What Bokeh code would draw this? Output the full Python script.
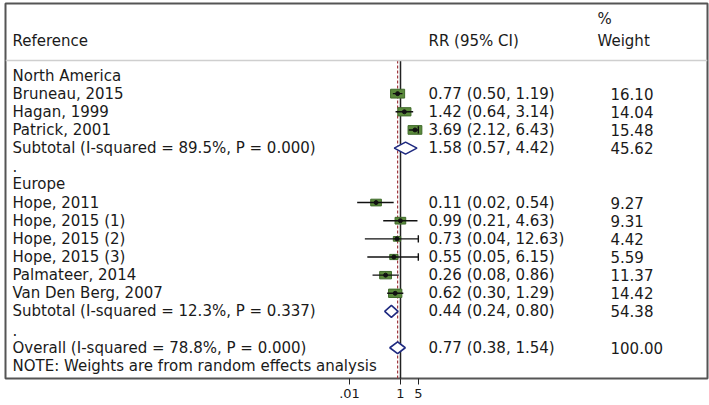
import numpy as np
from bokeh.plotting import figure
from bokeh.models import Range1d, FixedTicker, CustomJSTickFormatter, ColumnDataSource, Span
from bokeh.core.properties import value
from bokeh.embed import file_html
from bokeh.resources import INLINE

# ---------------- data ----------------
groups = ["North America", "Europe"]
group_rows = [0, 6]

studies = ["Bruneau, 2015", "Hagan, 1999", "Patrick, 2001",
           "Hope, 2011", "Hope, 2015 (1)", "Hope, 2015 (2)", "Hope, 2015 (3)",
           "Palmateer, 2014", "Van Den Berg, 2007"]
study_rows = [1, 2, 3, 7, 8, 9, 10, 11, 12]
rr = [0.77, 1.42, 3.69, 0.11, 0.99, 0.73, 0.55, 0.26, 0.62]
rr_lo = [0.50, 0.64, 2.12, 0.02, 0.21, 0.04, 0.05, 0.08, 0.30]
rr_hi = [1.19, 3.14, 6.43, 0.54, 4.63, 12.63, 6.15, 0.86, 1.29]
weights = [16.10, 14.04, 15.48, 9.27, 9.31, 4.42, 5.59, 11.37, 14.42]

pooled_labels = ["Subtotal  (I-squared = 89.5%, P = 0.000)",
                 "Subtotal  (I-squared = 12.3%, P = 0.337)",
                 "Overall  (I-squared = 78.8%, P = 0.000)"]
pooled_rows = [4, 13, 15]
pooled_rr = [1.58, 0.44, 0.77]
pooled_lo = [0.57, 0.24, 0.38]
pooled_hi = [4.42, 0.80, 1.54]
pooled_w = [45.62, 54.38, 100.00]

dot_rows = [5, 14]
note_text = "NOTE: Weights are from random effects analysis"
note_row = 16

x_ticks = [0.01, 1, 5]
x_tick_labels = [".01", "1", "5"]

# ---------------- layout helpers ----------------
PPD = 25.5          # pixels per decade
ONE_PX = 400        # page x of RR = 1
def px2x(px):
    return 10 ** ((px - ONE_PX) / PPD)

ROW0_PX, ROW_STEP = 75, 18.15
def py2row(py):
    return (py - ROW0_PX) / ROW_STEP

FRAME_L, FRAME_R, FRAME_T, FRAME_B = 5, 707, 3, 378

X_REF = px2x(12)
X_RR = px2x(428)
X_W = px2x(610)
X_WH = px2x(597)
HEAD_SEP = py2row(60)

FONT = value("DejaVu Sans")
FS = "15px"
TXT = "#1a1a1a"

p = figure(width=709, height=405, x_axis_type="log",
           x_range=Range1d(px2x(FRAME_L), px2x(FRAME_R)),
           y_range=Range1d(py2row(FRAME_B), py2row(FRAME_T)),
           output_backend="svg", toolbar_location=None,
           min_border_left=FRAME_L, min_border_right=709 - FRAME_R, min_border_top=FRAME_T,
           min_border_bottom=405 - FRAME_B, y_axis_location=None)
p.xgrid.visible = False
p.ygrid.visible = False
p.outline_line_color = "#555555"
p.outline_line_width = 2
p.background_fill_color = "white"
p.border_fill_color = "white"

ax = p.xaxis[0]
ax.ticker = FixedTicker(ticks=x_ticks, minor_ticks=[])
ax.formatter = CustomJSTickFormatter(args=dict(t=x_ticks, l=x_tick_labels), code="""
    for (let i = 0; i < t.length; i++) { if (Math.abs(tick - t[i]) < 1e-9 * t[i]) return l[i]; }
    return String(tick);
""")
ax.axis_line_color = None
ax.major_tick_in = 0
ax.major_tick_out = 6
ax.major_tick_line_color = "#222222"
ax.major_label_text_font = "DejaVu Sans"
ax.major_label_text_font_size = "13px"
ax.major_label_text_color = TXT
ax.major_label_standoff = 4

# header separator
p.add_layout(Span(location=HEAD_SEP, dimension="width", line_color="#cfcfcf", line_width=1.5))

# null line and overall line
y_bottom = py2row(FRAME_B)
overall_rr = pooled_rr[-1]
p.segment(x0=[1], y0=[HEAD_SEP], x1=[1], y1=[y_bottom], line_color="#222222", line_width=1.5)
p.segment(x0=[overall_rr], y0=[HEAD_SEP], x1=[overall_rr], y1=[y_bottom],
          line_color="#a0393f", line_width=1.2, line_dash="3 2")

# study boxes, CIs
rr_a = np.array(rr); lo_a = np.array(rr_lo); hi_a = np.array(rr_hi)
w_a = np.array(weights); rows_a = np.array(study_rows, dtype=float)
clip_hi = x_ticks[-1]
src = ColumnDataSource(dict(rr=rr_a, lo=lo_a, hi=np.minimum(hi_a, clip_hi), y=rows_a,
                            bw=3.5 * np.sqrt(w_a), bh=2.2 * np.sqrt(w_a)))
p.rect(x="rr", y="y", width="bw", height="bh", width_units="screen", height_units="screen",
       source=src, fill_color="#5b8a3c", line_color="#3f6a2a", line_width=1)
p.segment(x0="lo", y0="y", x1="hi", y1="y", source=src, line_color="#111111", line_width=1.4)
p.scatter(x="rr", y="y", source=src, size=4, marker="circle", color="#111111")
clipped = hi_a > clip_hi
n_clip = int(clipped.sum())
p.segment(x0=[clip_hi] * n_clip, y0=list(rows_a[clipped] - 0.2),
          x1=[clip_hi] * n_clip, y1=list(rows_a[clipped] + 0.2),
          line_color="#111111", line_width=1.4)

# pooled diamonds
dh = 0.33
xs = [[l, e, h, e] for l, e, h in zip(pooled_lo, pooled_rr, pooled_hi)]
ys = [[r, r - dh, r, r + dh] for r in pooled_rows]
p.patches(xs=xs, ys=ys, fill_color="white", line_color="#1f2a80", line_width=1.6)

# texts
def txt(xv, rows, labels):
    p.text(x=[xv] * len(labels), y=rows, text=labels, text_font=FONT, text_font_size=FS,
           text_color=TXT, text_baseline="middle", text_align="left")

hdr_row = py2row(40)
pct_row = py2row(18)
txt(X_REF, [hdr_row], ["Reference"])
txt(X_RR, [hdr_row], ["RR (95% CI)"])
txt(X_WH, [pct_row, hdr_row], ["%", "Weight"])
txt(X_REF, group_rows, groups)
txt(X_REF, study_rows, studies)
txt(X_REF, pooled_rows, pooled_labels)
txt(X_REF, dot_rows, ["."] * len(dot_rows))
txt(X_REF, [note_row], [note_text])
txt(X_RR, study_rows, [f"{a:.2f} ({b:.2f}, {c:.2f})" for a, b, c in zip(rr, rr_lo, rr_hi)])
txt(X_W, study_rows, [f"{w:.2f}" for w in weights])
txt(X_RR, pooled_rows, [f"{a:.2f} ({b:.2f}, {c:.2f})" for a, b, c in zip(pooled_rr, pooled_lo, pooled_hi)])
txt(X_W, pooled_rows, [f"{w:.2f}" for w in pooled_w])

open("out.html", "w").write(file_html(p, INLINE))
